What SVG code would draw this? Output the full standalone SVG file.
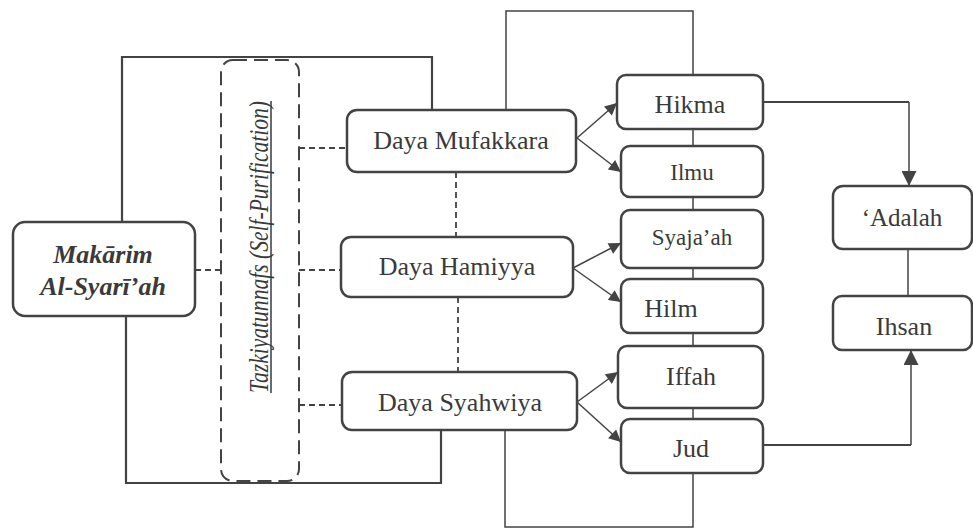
<svg xmlns="http://www.w3.org/2000/svg" width="973" height="531" viewBox="0 0 973 531">
<defs>
<style>
.box{fill:#fff;stroke:#434343;stroke-width:2.5}
.ln{fill:none;stroke:#434343;stroke-width:2.2}
.th{fill:none;stroke:#434343;stroke-width:1.5}
.ds{fill:none;stroke:#434343;stroke-width:1.8;stroke-dasharray:6 4}
text{font-family:'Liberation Serif','Times New Roman',Times,serif;fill:#3a3a3a;text-anchor:middle}
</style>
<marker id="ah" viewBox="0 0 10 10" refX="10" refY="5" markerWidth="14" markerHeight="12" markerUnits="userSpaceOnUse" orient="auto">
<path d="M0,0 L10,5 L0,10 Z" fill="#434343"/>
</marker>
<marker id="ahb" viewBox="0 0 10 10" refX="10" refY="5" markerWidth="15" markerHeight="15" markerUnits="userSpaceOnUse" orient="auto">
<path d="M0,0 L10,5 L0,10 Z" fill="#434343"/>
</marker>
</defs>
<rect width="973" height="531" fill="#fff"/>
<g id="connectors">
<polyline class="ln" points="432,110 432,57 122,57 122,222"/>
<polyline class="ln" points="126,316 126,483 441,483 441,430"/>
<polyline class="th" points="506,110 506,11 693,11 693,75"/>
<polyline class="th" points="505,430 505,527 693,527 693,473"/>
<line class="th" x1="693" y1="129" x2="693" y2="146"/>
<line class="th" x1="693" y1="197" x2="693" y2="210"/>
<line class="th" x1="693" y1="266" x2="693" y2="282"/>
<line class="th" x1="693" y1="333" x2="693" y2="346"/>
<line class="th" x1="693" y1="408" x2="693" y2="419"/>
<line class="th" x1="908" y1="249" x2="908" y2="296"/>
<polyline class="ln" points="763,102 909,102"/>
<polyline class="th" points="909,102 909,186" marker-end="url(#ahb)"/>
<polyline class="ln" points="763,445 911,445"/>
<polyline class="th" points="911,445 911,350" marker-end="url(#ahb)"/>
<line class="ds" x1="195" y1="270" x2="221" y2="270"/>
<line class="ds" x1="299" y1="148" x2="347" y2="148"/>
<line class="ds" x1="299" y1="270" x2="341" y2="270"/>
<line class="ds" x1="299" y1="405" x2="342" y2="405"/>
<line class="ds" x1="456" y1="172" x2="456" y2="237"/>
<line class="ds" x1="458" y1="297" x2="458" y2="372"/>
<line class="th" x1="577" y1="138" x2="617" y2="103" marker-end="url(#ah)"/>
<line class="th" x1="577" y1="138" x2="621" y2="172" marker-end="url(#ah)"/>
<line class="th" x1="573" y1="268" x2="621" y2="243" marker-end="url(#ah)"/>
<line class="th" x1="573" y1="268" x2="621" y2="302" marker-end="url(#ah)"/>
<line class="th" x1="577" y1="402" x2="618" y2="372" marker-end="url(#ah)"/>
<line class="th" x1="577" y1="402" x2="621" y2="442" marker-end="url(#ah)"/>
</g>
<g id="tazkiyatunnafs">
<rect x="221" y="60" width="78" height="421" rx="12" fill="none" stroke="#434343" stroke-width="2" stroke-dasharray="14 7"/>
<text transform="translate(268,247) rotate(-90)" font-size="28" font-style="italic" textLength="292" lengthAdjust="spacingAndGlyphs">Tazkiyatunnafs (Self-Purification)</text>
<line x1="271" y1="101" x2="271" y2="393" stroke="#3a3a3a" stroke-width="1.5"/>
</g>
<g id="makarim">
<rect class="box" x="13" y="222" width="182" height="94" rx="12"/>
<text x="103" y="263" font-size="26" font-style="italic" font-weight="bold">Makārim</text>
<text x="103" y="295" font-size="26" font-style="italic" font-weight="bold">Al-Syarī’ah</text>
</g>
<g id="mufakkara">
<rect class="box" x="347" y="110" width="229" height="62" rx="10"/>
<text x="461" y="149" font-size="26">Daya Mufakkara</text>
</g>
<g id="hamiyya">
<rect class="box" x="341" y="237" width="232" height="60" rx="10"/>
<text x="457" y="275" font-size="26">Daya Hamiyya</text>
</g>
<g id="syahwiya">
<rect class="box" x="342" y="372" width="235" height="58" rx="10"/>
<text x="460" y="411" font-size="26">Daya Syahwiya</text>
</g>
<g id="hikma">
<rect class="box" x="617" y="75" width="146" height="54" rx="9"/>
<text x="690" y="113" font-size="26">Hikma</text>
</g>
<g id="ilmu">
<rect class="box" x="621" y="146" width="142" height="51" rx="9"/>
<text x="692" y="180" font-size="23">Ilmu</text>
</g>
<g id="syajaah">
<rect class="box" x="621" y="210" width="142" height="58" rx="9"/>
<text x="692" y="245" font-size="23">Syaja’ah</text>
</g>
<g id="hilm">
<rect class="box" x="621" y="279" width="142" height="54" rx="9"/>
<text x="671" y="317" font-size="26">Hilm</text>
</g>
<g id="iffah">
<rect class="box" x="618" y="346" width="145" height="62" rx="9"/>
<text x="691" y="385" font-size="26">Iffah</text>
</g>
<g id="jud">
<rect class="box" x="621" y="419" width="142" height="54" rx="9"/>
<text x="691" y="457" font-size="26">Jud</text>
</g>
<g id="adalah">
<rect class="box" x="833" y="186" width="139" height="63" rx="10"/>
<text x="902" y="226" font-size="25">‘Adalah</text>
</g>
<g id="ihsan">
<rect class="box" x="833" y="296" width="139" height="54" rx="9"/>
<text x="904" y="335" font-size="26">Ihsan</text>
</g>
</svg>
